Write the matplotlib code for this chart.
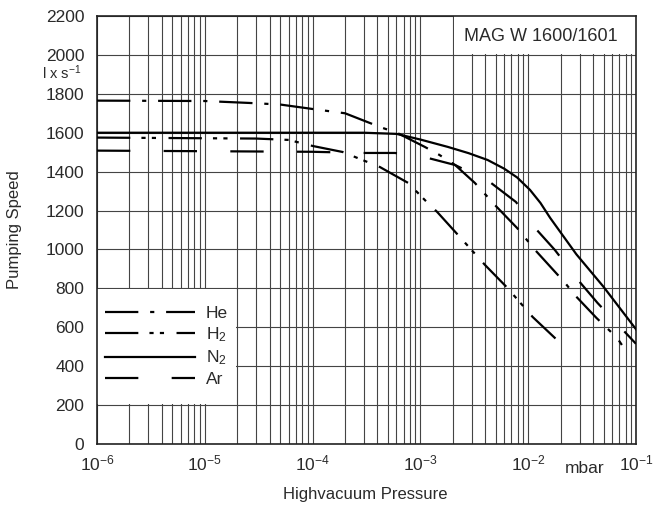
import numpy as np
import matplotlib
matplotlib.use('Agg')
import matplotlib.pyplot as plt
from matplotlib.patches import Rectangle

plt.rcParams['font.family'] = ['Liberation Sans', 'DejaVu Sans']
plt.rcParams['mathtext.fontset'] = 'custom'
plt.rcParams['mathtext.rm'] = 'Liberation Sans'
plt.rcParams['mathtext.it'] = 'Liberation Sans'
plt.rcParams['lines.scale_dashes'] = False

# datos (presion en mbar, velocidad en l/s)
p_he = [1e-6, 1e-5, 2.6e-5, 5e-5, 1e-4, 2e-4, 3.4e-4, 4.5e-4, 6.1e-4, 1.1e-3, 1.5e-3,
        2.1e-3, 3.2e-3, 3.9e-3, 4.9e-3, 7.9e-3, 1.16e-2, 2.2e-2, 2.7e-2, 4.3e-2, 6.7e-2, 7.4e-2]
s_he = [1765, 1763, 1753, 1745, 1722, 1700, 1650, 1624, 1599, 1527, 1486,
        1434, 1342, 1290, 1229, 1110, 997, 828, 766, 648, 545, 509]

p_h2 = [1e-6, 3e-5, 6e-5, 1e-4, 1.9e-4, 4.2e-4, 7.7e-4, 1.1e-3, 1.43e-3, 2.23e-3,
        3.98e-3, 6.3e-3, 1.1e-2, 1.85e-2]
s_h2 = [1575, 1570, 1563, 1532, 1501, 1424, 1342, 1254, 1193, 1075,
        920, 807, 653, 535]

p_n2 = [1e-6, 3e-4, 6e-4, 1e-3, 1.8e-3, 2.8e-3, 4.2e-3, 6e-3, 7.9e-3, 1.04e-2,
        1.3e-2, 1.6e-2, 2.8e-2, 5e-2, 1e-1]
s_n2 = [1600, 1600, 1594, 1565, 1527, 1495, 1460, 1415, 1370, 1306,
        1239, 1162, 975, 808, 590]

p_ar = [1e-6, 1e-4, 2.9e-4, 5.8e-4, 1.18e-3, 2.1e-3, 4.4e-3, 7.7e-3, 1.16e-2,
        1.77e-2, 2.9e-2, 4.4e-2, 1e-1]
s_ar = [1508, 1502, 1496, 1496, 1470, 1434, 1347, 1244, 1110,
        997, 843, 725, 515]

x_ticks = [1e-6, 1e-5, 1e-4, 1e-3, 1e-2, 1e-1]
x_ticklabels = ['10$^{-6}$', '10$^{-5}$', '10$^{-4}$', '10$^{-3}$', '10$^{-2}$', '10$^{-1}$']
y_ticks = list(range(0, 2201, 200))

txt = '#2a2a2a'
gris = '#444444'

fig = plt.figure(figsize=(6.67, 5.11), dpi=100)
ax = fig.add_axes([0.1454, 0.1311, 0.8081, 0.8376])
ax.set_xscale('log')
ax.set_xlim(1e-6, 1e-1)
ax.set_ylim(0, 2200)

# grilla
ax.set_axisbelow(True)
ax.grid(True, which='both', axis='x', color=gris, lw=0.8)
ax.grid(True, which='major', axis='y', color=gris, lw=0.8)
ax.set_yticks(y_ticks)
ax.set_xticks(x_ticks)
ax.set_xticklabels(x_ticklabels)
ax.tick_params(which='both', length=0, labelsize=12.5, colors=txt)
ax.tick_params(axis='y', pad=9)
ax.tick_params(axis='x', pad=7)
for sp in ax.spines.values():
    sp.set_linewidth(1.2)
    sp.set_color('#222222')

# zonas blancas (leyenda y titulo)
ax.add_patch(Rectangle((1e-6, 205), 1.96e-5 - 1e-6, 590, facecolor='white',
                       edgecolor='none', zorder=1))
ax.add_patch(Rectangle((2.04e-3, 2005), 0.1 - 2.04e-3, 195, facecolor='white',
                       edgecolor='none', zorder=1))

lw = 1.6
l_he, = ax.plot(p_he, s_he, color='k', lw=lw, dashes=[24, 8.5, 3, 8.5], zorder=3)
l_h2, = ax.plot(p_h2, s_h2, color='k', lw=lw, dashes=[24, 8, 3, 4.5, 3, 9], zorder=3)
l_n2, = ax.plot(p_n2, s_n2, color='k', lw=lw, zorder=3)
l_ar, = ax.plot(p_ar, s_ar, color='k', lw=lw, dashes=[24, 24], zorder=3)

leg = ax.legend([l_he, l_h2, l_n2, l_ar], ['He', 'H$_2$', 'N$_2$', 'Ar'],
                loc='upper left', bbox_to_anchor=(0.0148, 0.323), frameon=False,
                borderpad=0, borderaxespad=0, handlelength=5.2, handletextpad=0.6,
                labelspacing=0.26, fontsize=12.5)
for t in leg.get_texts():
    t.set_color(txt)

ax.text(0.824, 0.953, 'MAG W 1600/1601', transform=ax.transAxes, ha='center',
        va='center', fontsize=13, color=txt)
ax.text(-0.065, 0.867, 'l x s$^{-1}$', transform=ax.transAxes, ha='center',
        va='center', fontsize=10.5, color=txt)
ax.text(0.905, -0.058, 'mbar', transform=ax.transAxes, ha='center', va='center',
        fontsize=12.5, color=txt)

ax.set_ylabel('Pumping Speed', fontsize=12, color=txt)
ax.yaxis.set_label_coords(-0.139, 0.5)
ax.set_xlabel('Highvacuum Pressure', fontsize=12, color=txt)
ax.xaxis.set_label_coords(0.497, -0.10)

fig.savefig('out.png', dpi=100)
